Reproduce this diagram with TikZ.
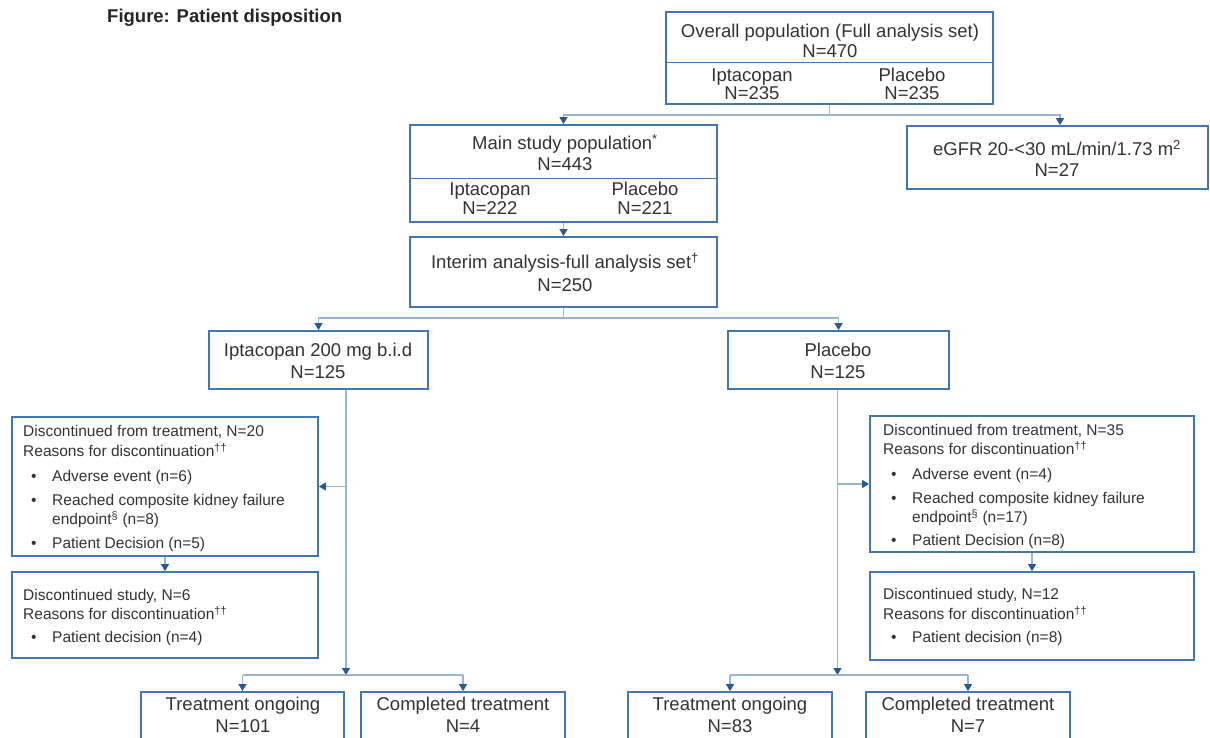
\documentclass[tikz,border=0pt]{standalone}
\usepackage{fontspec}
\setmainfont{Liberation Sans}
\usetikzlibrary{arrows.meta}
\definecolor{boxc}{RGB}{66,120,175}
\definecolor{linec}{RGB}{150,182,214}
\definecolor{arrowc}{RGB}{40,90,145}
\definecolor{txtc}{RGB}{51,51,51}
\begin{document}
\begin{tikzpicture}[x=1pt,y=-1pt,
  box/.style={draw=boxc, line width=1.8pt, inner sep=0pt, fill=white},
  big/.style={font=\fontsize{18.5}{22}\selectfont, text=txtc, inner sep=0pt, text height=13.2pt, text depth=0pt},
  sml/.style={font=\fontsize{15.5}{19}\selectfont, text=txtc, inner sep=0pt, text height=11.1pt, text depth=0pt, anchor=west},
  conn/.style={draw=linec, line width=1.3pt},
  arr/.style={conn, -{Triangle[width=8pt,length=7pt,color=arrowc]}},
  divl/.style={draw=boxc, line width=1pt}
]
\fill[white] (0,0) rectangle (1210,737);
\useasboundingbox (0,0) rectangle (1210,737);

\node[font=\bfseries\fontsize{18.5}{22}\selectfont, anchor=west, text=black!85, inner sep=0pt] (title) at (107,18) {Figure: Patient disposition};

% boxes
\node[box, minimum width=327pt, minimum height=92pt] (top) at (829.5,58) {};
\node[box, minimum width=307pt, minimum height=97pt] (main) at (563.5,173.5) {};
\node[box, minimum width=301pt, minimum height=63pt] (egfr) at (1057.5,157.5) {};
\node[box, minimum width=307pt, minimum height=70pt] (interim) at (563.5,272) {};
\node[box, minimum width=219pt, minimum height=58pt] (ipt) at (318.5,360) {};
\node[box, minimum width=221pt, minimum height=58pt] (pla) at (838.5,360) {};
\node[box, minimum width=306pt, minimum height=139pt] (ldisc) at (165,486.5) {};
\node[box, minimum width=306pt, minimum height=86pt] (ldisc2) at (165,615) {};
\node[box, minimum width=324pt, minimum height=136pt] (rdisc) at (1032,484) {};
\node[box, minimum width=324pt, minimum height=88pt] (rdisc2) at (1032,616) {};
\node[box, minimum width=203pt, minimum height=56pt] (lto) at (242.5,720) {};
\node[box, minimum width=204pt, minimum height=56pt] (lct) at (463,720) {};
\node[box, minimum width=204pt, minimum height=56pt] (rto) at (730,720) {};
\node[box, minimum width=204pt, minimum height=56pt] (rct) at (968,720) {};

% dividers
\coordinate (d1) at (0,62);
\coordinate (d2) at (0,178);
\draw[divl] (top.west |- d1) -- (top.east |- d1);
\draw[divl] (main.west |- d2) -- (main.east |- d2);

% texts: top
\node[big] (t1) at (830,31) {Overall population (Full analysis set)};
\node[big] (t2) at (830,51) {N=470};
\node[big] (t3) at (752,75) {Iptacopan};
\node[big] (t4) at (752,93) {N=235};
\node[big] (t5) at (912,75) {Placebo};
\node[big] (t6) at (912,93) {N=235};
% main
\node[big] (m1) at (565,143) {Main study population\textsuperscript{*}};
\node[big] (m2) at (565,164) {N=443};
\node[big] (m3) at (490,189) {Iptacopan};
\node[big] (m4) at (490,208) {N=222};
\node[big] (m5) at (645,189) {Placebo};
\node[big] (m6) at (645,208) {N=221};
% egfr
\node[big] (e1) at (1057,149) {eGFR 20-<30 mL/min/1.73 m\textsuperscript{2}};
\node[big] (e2) at (1057,170) {N=27};
% interim
\node[big] (i1) at (565,262) {Interim analysis-full analysis set\textsuperscript{†}};
\node[big] (i2) at (565,285) {N=250};
% arms
\node[big] (a1) at (318,350) {Iptacopan 200 mg b.i.d};
\node[big] (a2) at (318,372) {N=125};
\node[big] (b1) at (838,350) {Placebo};
\node[big] (b2) at (838,372) {N=125};
% left discontinuation
\node[sml] (l1) at (23,431) {Discontinued from treatment, N=20};
\node[sml] (l2) at (23,451) {Reasons for discontinuation\textsuperscript{††}};
\node[sml] (l3b) at (31,476) {•};
\node[sml] (l3) at (52,476) {Adverse event (n=6)};
\node[sml] (l4b) at (31,500) {•};
\node[sml] (l4) at (52,500) {Reached composite kidney failure};
\node[sml] (l5) at (52,519) {endpoint\textsuperscript{§} (n=8)};
\node[sml] (l6b) at (31,543) {•};
\node[sml] (l6) at (52,543) {Patient Decision (n=5)};
\node[sml] (l7) at (23,595) {Discontinued study, N=6};
\node[sml] (l8) at (23,614) {Reasons for discontinuation\textsuperscript{††}};
\node[sml] (l9b) at (31,637) {•};
\node[sml] (l9) at (52,637) {Patient decision (n=4)};
% right discontinuation
\node[sml] (r1) at (883,430) {Discontinued from treatment, N=35};
\node[sml] (r2) at (883,449) {Reasons for discontinuation\textsuperscript{††}};
\node[sml] (r3b) at (891,474) {•};
\node[sml] (r3) at (912,474) {Adverse event (n=4)};
\node[sml] (r4b) at (891,498) {•};
\node[sml] (r4) at (912,498) {Reached composite kidney failure};
\node[sml] (r5) at (912,517) {endpoint\textsuperscript{§} (n=17)};
\node[sml] (r6b) at (891,540) {•};
\node[sml] (r6) at (912,540) {Patient Decision (n=8)};
\node[sml] (r7) at (883,594) {Discontinued study, N=12};
\node[sml] (r8) at (883,614) {Reasons for discontinuation\textsuperscript{††}};
\node[sml] (r9b) at (891,637) {•};
\node[sml] (r9) at (912,637) {Patient decision (n=8)};
% bottom
\node[big] (o1) at (243,704) {Treatment ongoing};
\node[big] (o2) at (243,726) {N=101};
\node[big] (c1) at (463,704) {Completed treatment};
\node[big] (c2) at (463,726) {N=4};
\node[big] (o3) at (730,704) {Treatment ongoing};
\node[big] (o4) at (730,726) {N=83};
\node[big] (c3) at (968,704) {Completed treatment};
\node[big] (c4) at (968,726) {N=7};

% connectors
\coordinate (h1) at (0,115);
\coordinate (h2) at (0,318);
\coordinate (h3) at (0,675);
\draw[conn] (top.south) -- (top.south |- h1) coordinate (j1);
\draw[arr] (j1) -| (main.north);
\draw[arr] (j1) -| ([xshift=2.5pt]egfr.north);
\draw[arr] (main.south) -- (interim.north);
\draw[conn] (interim.south) -- (interim.south |- h2) coordinate (j2);
\draw[arr] (j2) -| (ipt.north);
\draw[arr] (j2) -| (pla.north);

\coordinate (ls) at ([xshift=27.5pt]ipt.south);
\draw[arr] (ls) -- (ls |- h3) coordinate (j3);
\draw[arr] (ls |- ldisc.east) -- (ldisc.east);
\draw[arr] (ldisc.south) -- (ldisc2.north);
\draw[conn] (lto.north |- j3) -- (lct.north |- j3);
\draw[arr] (lto.north |- j3) -- (lto.north);
\draw[arr] (lct.north |- j3) -- (lct.north);

\coordinate (rs) at ([xshift=-1pt]pla.south);
\draw[arr] (rs) -- (rs |- h3) coordinate (j4);
\draw[arr] (rs |- rdisc.west) -- (rdisc.west);
\draw[arr] (rdisc.south) -- (rdisc2.north);
\draw[conn] (rto.north |- j4) -- (rct.north |- j4);
\draw[arr] (rto.north |- j4) -- (rto.north);
\draw[arr] (rct.north |- j4) -- (rct.north);
\end{tikzpicture}
\end{document}
